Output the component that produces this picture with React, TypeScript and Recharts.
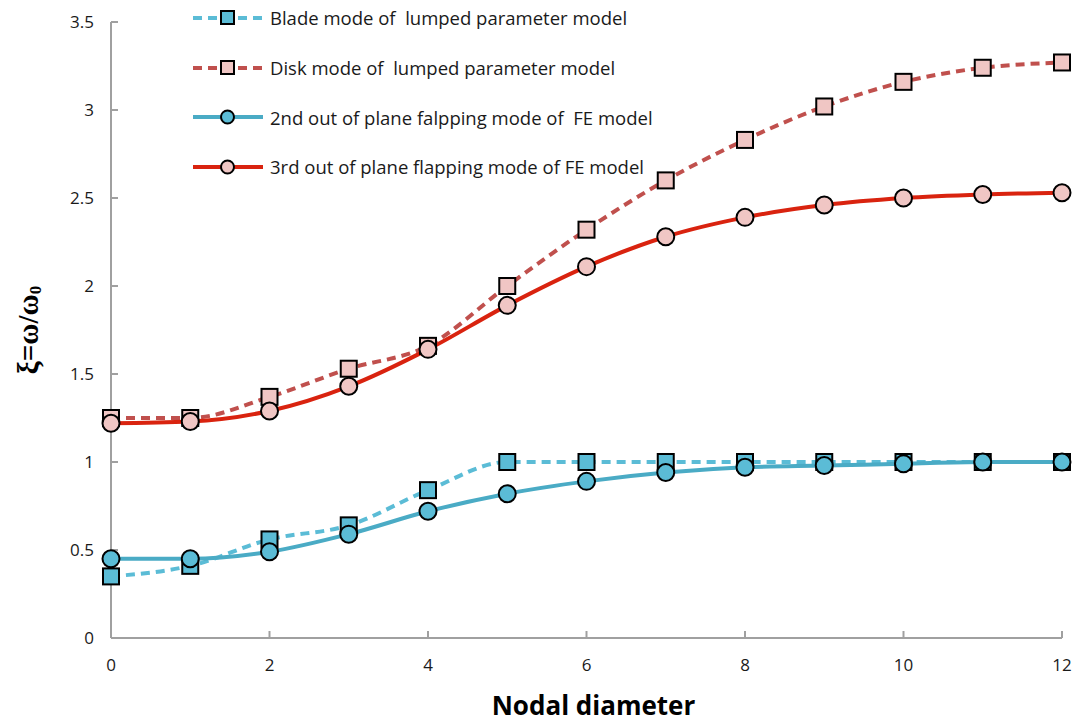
import { LineChart, Line, XAxis, YAxis, Label } from "recharts";

const nodalDiameters = [0, 1, 2, 3, 4, 5, 6, 7, 8, 9, 10, 11, 12];
const bladeLumped = [0.35, 0.41, 0.56, 0.64, 0.84, 1.0, 1.0, 1.0, 1.0, 1.0, 1.0, 1.0, 1.0];
const diskLumped = [1.25, 1.25, 1.37, 1.53, 1.66, 2.0, 2.32, 2.6, 2.83, 3.02, 3.16, 3.24, 3.27];
const feSecond = [0.45, 0.45, 0.49, 0.59, 0.72, 0.82, 0.89, 0.94, 0.97, 0.98, 0.99, 1.0, 1.0];
const feThird = [1.22, 1.23, 1.29, 1.43, 1.64, 1.89, 2.11, 2.28, 2.39, 2.46, 2.5, 2.52, 2.53];

const xTicks = [0, 2, 4, 6, 8, 10, 12];
const yTicks = [0, 0.5, 1, 1.5, 2, 2.5, 3, 3.5];

const seriesNames = [
  "Blade mode of  lumped parameter model",
  "Disk mode of  lumped parameter model",
  "2nd out of plane falpping mode of  FE model",
  "3rd out of plane flapping mode of FE model",
];

const data = nodalDiameters.map((nd, i) => ({
  nd,
  blade: bladeLumped[i],
  disk: diskLumped[i],
  fe2: feSecond[i],
  fe3: feThird[i],
}));

const FONT = "'Open Sans', Lato, sans-serif";
const CYAN = "#5bbcd6";
const CYAN_DARK = "#4aabc5";
const BROWN = "#c0504d";
const RED = "#d9230f";
const PINK = "#f0c6c4";

function Square(props: any) {
  const { cx, cy, fill } = props;
  if (cx == null || cy == null) return null;
  return (
    <rect x={cx - 8} y={cy - 8} width={16} height={16} fill={fill} stroke="#000" strokeWidth={2} />
  );
}

function Circle(props: any) {
  const { cx, cy, fill } = props;
  if (cx == null || cy == null) return null;
  return <circle cx={cx} cy={cy} r={8.5} fill={fill} stroke="#000" strokeWidth={2} />;
}

const legendItems = [
  { name: seriesNames[0], color: CYAN, dash: "9 6", marker: "square", fill: CYAN },
  { name: seriesNames[1], color: BROWN, dash: "9 6", marker: "square", fill: PINK },
  { name: seriesNames[2], color: CYAN_DARK, dash: undefined, marker: "circle", fill: CYAN },
  { name: seriesNames[3], color: RED, dash: undefined, marker: "circle", fill: PINK },
];

function LegendBox() {
  return (
    <div style={{ position: "absolute", left: 190, top: -7, fontFamily: FONT, fontSize: 18.5, color: "#1a1a1a" }}>
      {legendItems.map((it) => (
        <div key={it.name} style={{ display: "flex", alignItems: "center", height: 49.7 }}>
          <svg width={76} height={20} style={{ marginRight: 4 }}>
            <line x1={3} y1={10} x2={73} y2={10} stroke={it.color} strokeWidth={4} strokeDasharray={it.dash} />
            {it.marker === "square" ? (
              <rect x={31} y={3} width={13} height={13} fill={it.fill} stroke="#000" strokeWidth={2} />
            ) : (
              <circle cx={37.5} cy={10} r={6.5} fill={it.fill} stroke="#000" strokeWidth={2} />
            )}
          </svg>
          <span style={{ whiteSpace: "pre" }}>{it.name}</span>
        </div>
      ))}
    </div>
  );
}

function YTitle(props: any) {
  const { viewBox } = props;
  const cx = 28;
  const cy = viewBox.y + viewBox.height / 2;
  return (
    <text
      transform={`translate(${cx},${cy}) rotate(-90)`}
      textAnchor="middle"
      dominantBaseline="central"
      fontFamily="'Liberation Serif', 'DejaVu Serif', serif"
      fontWeight="bold"
      fontSize={29}
      fill="#000"
    >
      ξ=ω/ω<tspan fontSize={17} dy={7}>0</tspan>
    </text>
  );
}

export default function App() {
  return (
    <div style={{ position: "absolute", left: 0, top: 0, width: 1079, height: 724, background: "#fff" }}>
      <LineChart width={1079} height={724} data={data} margin={{ top: 22, right: 17, bottom: 0, left: 0 }}>
        <XAxis
          dataKey="nd"
          type="number"
          domain={[0, 12]}
          ticks={xTicks}
          axisLine={{ stroke: "#a0a0a0", strokeWidth: 2 }}
          tickLine={{ stroke: "#a0a0a0", strokeWidth: 2 }}
          tickSize={-7}
          tickMargin={28}
          height={86}
          tick={{ fontFamily: FONT, fontSize: 17, fill: "#1a1a1a" }}
        >
          <Label
            value="Nodal diameter"
            position="insideBottom"
            offset={9}
            dx={7}
            style={{ fontFamily: FONT, fontSize: 26, fontWeight: "bold", fill: "#000" }}
          />
        </XAxis>
        <YAxis
          type="number"
          domain={[0, 3.5]}
          ticks={yTicks}
          width={111}
          axisLine={{ stroke: "#a0a0a0", strokeWidth: 2 }}
          tickLine={{ stroke: "#a0a0a0", strokeWidth: 2 }}
          tickSize={-7}
          tickMargin={24}
          tick={{ fontFamily: FONT, fontSize: 17, fill: "#1a1a1a" }}
        >
          <Label content={<YTitle />} />
        </YAxis>
        <Line
          dataKey="blade"
          name={seriesNames[0]}
          type="monotone"
          stroke={CYAN}
          strokeWidth={4}
          strokeDasharray="9 6"
          dot={<Square fill={CYAN} />}
          isAnimationActive={false}
        />
        <Line
          dataKey="disk"
          name={seriesNames[1]}
          type="monotone"
          stroke={BROWN}
          strokeWidth={4}
          strokeDasharray="9 6"
          dot={<Square fill={PINK} />}
          isAnimationActive={false}
        />
        <Line
          dataKey="fe2"
          name={seriesNames[2]}
          type="monotone"
          stroke={CYAN_DARK}
          strokeWidth={4}
          dot={<Circle fill={CYAN} />}
          isAnimationActive={false}
        />
        <Line
          dataKey="fe3"
          name={seriesNames[3]}
          type="monotone"
          stroke={RED}
          strokeWidth={4}
          dot={<Circle fill={PINK} />}
          isAnimationActive={false}
        />
      </LineChart>
      <LegendBox />
    </div>
  );
}
